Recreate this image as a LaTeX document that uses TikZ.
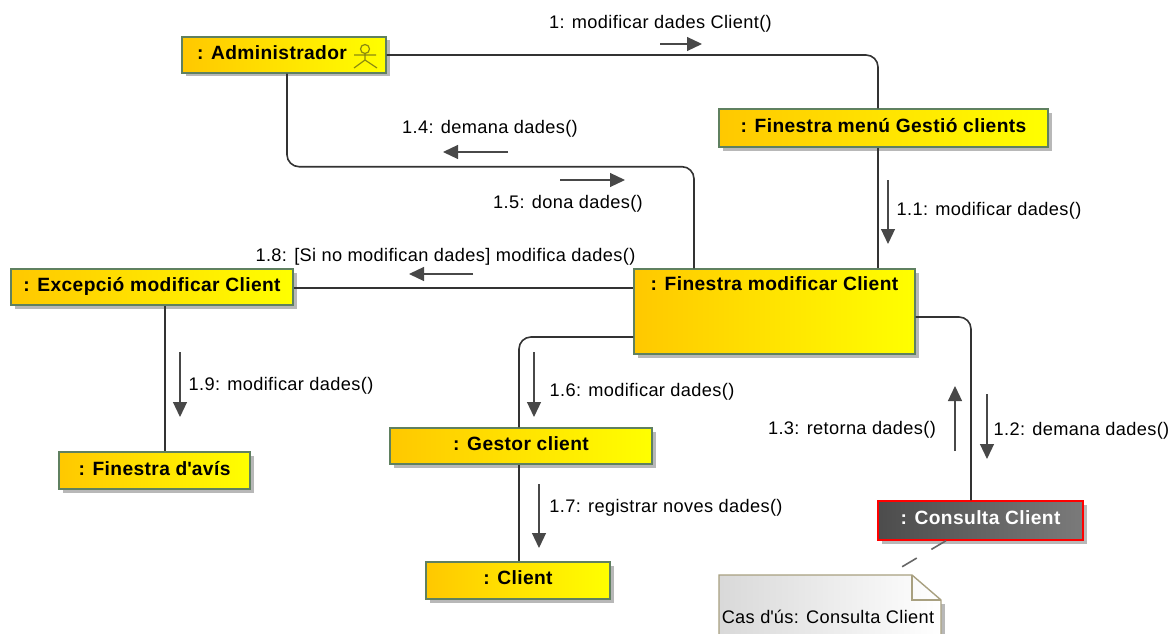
\documentclass[tikz,border=0pt]{standalone}
\usepackage{fontspec}
\setmainfont[LetterSpace=2]{Liberation Sans}
\usetikzlibrary{arrows.meta}
\usetikzlibrary{shadows}
\definecolor{boxedge}{HTML}{5F8060}
\definecolor{boxleft}{HTML}{FFC800}
\definecolor{linegray}{HTML}{333333}
\definecolor{arrowgray}{HTML}{484848}
\definecolor{noteedge}{HTML}{A8A080}
\definecolor{actorcol}{HTML}{8A8A10}
\tikzset{objbox/.style={draw=boxedge,line width=1.4pt,left color=boxleft,right color=yellow,
    general shadow={fill=black!28,shadow xshift=3.5pt,shadow yshift=-3.5pt},
    inner sep=0pt,text=black,text depth=5pt,font=\fontsize{19.2}{22}\selectfont\bfseries}
}
\tikzset{usebox/.style={objbox,draw=red,left color=black!70,right color=black!52,text=white}}
\tikzset{link/.style={line width=1.6pt,color=linegray,rounded corners=12pt}}
\tikzset{msg/.style={line width=1.2pt,color=arrowgray,-{Triangle[length=15pt,width=14pt]}}}
\tikzset{msgtxt/.style={inner sep=0pt,text=black,font=\fontsize{18.2}{21}\selectfont}}

\begin{document}
\begin{tikzpicture}[x=1pt,y=-1pt]
                \useasboundingbox (0,0) rectangle (1176,634);

                % Objects
                \node[objbox,minimum width=204pt,minimum height=36pt] (admin) at (284,55) {: Administrador\kern24pt};
                \node[objbox,minimum width=329pt,minimum height=38pt] (menu) at (883.5,128) {: Finestra menú Gestió clients};
                \node[objbox,minimum width=282pt,minimum height=36pt] (excep) at (152,287) {: Excepció modificar Client};
                \node[objbox,minimum width=281pt,minimum height=85pt,text depth=55pt] (modif) at (774.5,311.5) {: Finestra modificar Client};
                \node[objbox,minimum width=262pt,minimum height=36pt] (gestor) at (521,446) {: Gestor client};
                \node[objbox,minimum width=191pt,minimum height=37pt] (avis) at (154.5,470.5) {: Finestra d\textquotesingle avís};
                \node[objbox,minimum width=184pt,minimum height=37pt] (client) at (518,580.5) {: Client};
                \node[usebox,minimum width=205pt,minimum height=39pt] (cons) at (980.5,520.5) {: Consulta Client};

                % Actor
                \draw[actorcol,line width=1.2pt] (365,49) circle (4.5pt);
                \draw[actorcol,line width=1.2pt] (365,53.5) -- (365,60) (354,55) -- (376,55) (354,68) -- (365,60) -- (377,68);

                % Links
                \draw[link] (admin.east) -| ([xshift=-5.5pt]menu.north);
                \draw[link] ([xshift=-5.5pt]menu.south) -- ([xshift=103.5pt]modif.north);
                \draw[link] ([xshift=3pt]admin.south) -- ++(0,93) -| ([xshift=-80.5pt]modif.north);
                \draw[link] ([yshift=-1pt]excep.east) -- ([yshift=23.5pt]modif.west);
                \draw[link] ([xshift=13pt]excep.south) -- ([xshift=10.5pt]avis.north);
                \draw[link] ([yshift=-25.5pt]modif.west) -| ([xshift=-2pt]gestor.north);
                \draw[link] ([xshift=-2pt]gestor.south) -- ([xshift=1pt]client.north);
                \draw[link] ([yshift=-5.5pt]modif.east) -| ([xshift=-9.5pt]cons.north);

                % Note
                \fill[black!28] (945,604) -- (945,634) -- (941,634) -- (941,604) -- cycle;
                \shade[left color=black!15,right color=white] (719,634) -- (719,575) -- (912,575) -- (941,600) -- (941,634) -- cycle;
                \draw[noteedge,line width=1.4pt] (719,634) -- (719,575) -- (912,575) -- (941,600) -- (941,634);
                \draw[noteedge,line width=1.4pt] (912,575) -- (912,600) -- (941,600);
                \node[msgtxt] (note) at (828,617) {Cas d\textquotesingle ús: Consulta Client};
                \coordinate (notetop) at (900,568);
                \draw[link,color=black!60,dash pattern=on 17pt off 17pt] ([xshift=-34.5pt]cons.south) -- (notetop);

                % Messages
                \node[msgtxt] (m1) at (660.5,24) {1: modificar dades Client()};
                \node[msgtxt] (m14) at (490,129) {1.4: demana dades()};
                \node[msgtxt] (m15) at (568,204) {1.5: dona dades()};
                \node[msgtxt] (m11) at (989,211) {1.1: modificar dades()};
                \node[msgtxt] (m18) at (445.5,257) {1.8: [Si no modifican dades] modifica dades()};
                \node[msgtxt] (m19) at (281,386) {1.9: modificar dades()};
                \node[msgtxt] (m16) at (642,392) {1.6: modificar dades()};
                \node[msgtxt] (m17) at (666,508) {1.7: registrar noves dades()};
                \node[msgtxt] (m13) at (852,430) {1.3: retorna dades()};
                \node[msgtxt] (m12) at (1081.5,431) {1.2: demana dades()};

                % Message arrows
                \coordinate (a1) at (660,44); \coordinate (b1) at (702,44);
                \draw[msg] (a1) -- (b1);
                \coordinate (a14) at (508,152); \coordinate (b14) at (443,152);
                \draw[msg] (a14) -- (b14);
                \coordinate (a15) at (560,180); \coordinate (b15) at (625,180);
                \draw[msg] (a15) -- (b15);
                \coordinate (a11) at (888,180); \coordinate (b11) at (888,244);
                \draw[msg] (a11) -- (b11);
                \coordinate (a18) at (473,274); \coordinate (b18) at (409,274);
                \draw[msg] (a18) -- (b18);
                \coordinate (a19) at (180,352); \coordinate (b19) at (180,417);
                \draw[msg] (a19) -- (b19);
                \coordinate (a16) at (534,352); \coordinate (b16) at (534,417);
                \draw[msg] (a16) -- (b16);
                \coordinate (a17) at (539,484); \coordinate (b17) at (539,548);
                \draw[msg] (a17) -- (b17);
                \coordinate (a13) at (955,451); \coordinate (b13) at (955,386);
                \draw[msg] (a13) -- (b13);
                \coordinate (a12) at (987,394); \coordinate (b12) at (987,459);
                \draw[msg] (a12) -- (b12);
\end{tikzpicture}
\end{document}
